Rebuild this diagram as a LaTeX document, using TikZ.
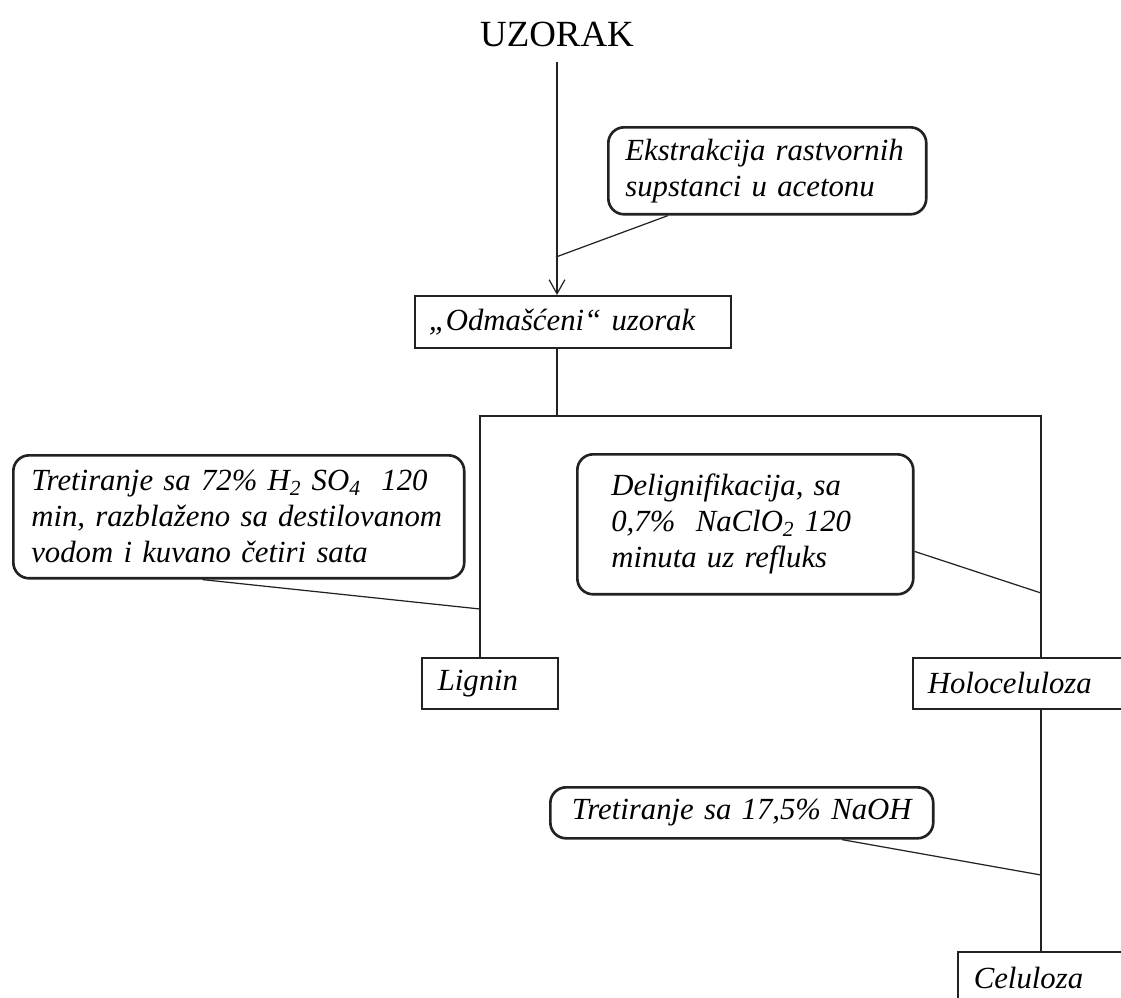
\documentclass[tikz,border=0pt]{standalone}
\usepackage{fontspec}
\setmainfont{Liberation Serif}
\usetikzlibrary{arrows.meta, positioning, calc}
\definecolor{linija}{HTML}{222222}

\tikzset{
  kutija/.style={draw=linija, line width=0.9pt, anchor=north west, align=left, inner ysep=0pt,
    font={\itshape\fontsize{17.5}{20.5}\selectfont\fontdimen2\font=3.1pt}},
  zaobljena/.style={kutija, rounded corners=9pt, line width=1.5pt},
  veza/.style={draw=linija, line width=0.7pt}
}

\begin{document}
\begin{tikzpicture}[x=0.02cm, y=-0.02cm]
          \useasboundingbox (0,0) rectangle (1121,997);
          % Uzorak
          \node[font=\fontsize{21}{24}\selectfont, inner sep=0.3cm] (uzorak) at (557,34) {UZORAK};
          % Ekstrakcija
          \node[zaobljena, text width=5.68cm, minimum height=1.74cm, inner xsep=0.34cm] (ekstr) at (607,126) {Ekstrakcija rastvornih\\supstanci u acetonu};
          % Odmašćeni uzorak
          \node[kutija, text width=5.76cm, minimum height=1.04cm, inner xsep=0.28cm] (odm) at (414,295) {„Odmašćeni“ uzorak};
          % Tretiranje kiselinom
          \node[zaobljena, text width=8.30cm, minimum height=2.46cm, inner xsep=0.36cm] (tret) at (12,454) {Tretiranje sa 72\% H\textsubscript{2} SO\textsubscript{4}\ \ 120\\min, razblaženo sa destilovanom\\vodom i kuvano četiri sata};
          % Delignifikacija
          \node[zaobljena, text width=5.36cm, minimum height=2.80cm, inner xsep=0.68cm] (delig) at (576,453) {Delignifikacija, sa\\0,7\%\ \ NaClO\textsubscript{2} 120\\minuta uz refluks};
          % Lignin i holoceluloza
          \node[kutija, text width=2.08cm, minimum height=1.02cm, inner xsep=0.32cm] (lignin) at (421,657) {Lignin};
          \node[kutija, text width=3.66cm, minimum height=1.02cm, inner xsep=0.30cm] (holo) at (912,657) {Holoceluloza};
          % NaOH
          \node[zaobljena, text width=7.06cm, minimum height=1.02cm, inner xsep=0.30cm, align=center] (naoh) at (549,786) {Tretiranje sa 17,5\% NaOH};
          % Celuloza
          \node[kutija, text width=2.96cm, minimum height=1.04cm, inner xsep=0.32cm] (celul) at (957,951) {Celuloza};
          % Tacke spajanja
          \coordinate (spoj1) at (556,257);
          \coordinate (granaL) at (480,416);
          \coordinate (granaD) at (1041,416);
          \coordinate (spoj2) at (480,609);
          \coordinate (spoj3) at (1041,593);
          \coordinate (spoj4) at (1041,875);
          % Linije
          \draw[veza, -{Straight Barb[length=8pt, width=9pt]}] (uzorak.south) -- (uzorak.south |- odm.north);
          \draw[veza] ($(ekstr.south west)!0.19!(ekstr.south east)$) -- (spoj1);
          \draw[veza] (uzorak.south |- odm.south) -- (uzorak.south |- granaL);
          \draw[veza] (lignin.north -| granaL) -- (granaL) -- (granaD) -- (holo.north -| granaD);
          \draw[veza] ($(tret.south west)!0.42!(tret.south east)$) -- (spoj2);
          \draw[veza] ($(delig.north east)!0.69!(delig.south east)$) -- (spoj3);
          \draw[veza] (holo.south -| granaD) -- (celul.north -| granaD);
          \draw[veza] ($(naoh.south west)!0.76!(naoh.south east)$) -- (spoj4);
        \end{tikzpicture}
\end{document}
